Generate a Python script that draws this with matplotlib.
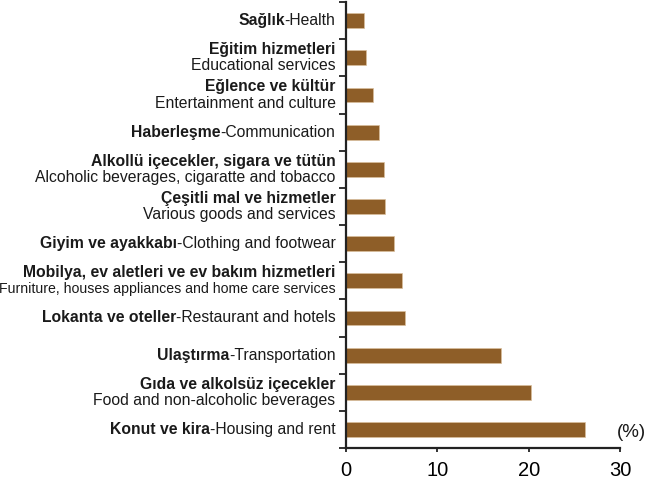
import matplotlib.pyplot as plt
import numpy as np

plt.rcParams['font.family'] = ['Liberation Sans', 'DejaVu Sans']

# categories, top to bottom
bold_tr = ['Sağlık', 'Eğitim hizmetleri', 'Eğlence ve kültür', 'Haberleşme',
           'Alkollü içecekler, sigara ve tütün', 'Çeşitli mal ve hizmetler',
           'Giyim ve ayakkabı', 'Mobilya, ev aletleri ve ev bakım hizmetleri',
           'Lokanta ve oteller', 'Ulaştırma', 'Gıda ve alkolsüz içecekler',
           'Konut ve kira']
english = ['Health', 'Educational services', 'Entertainment and culture',
           'Communication', 'Alcoholic beverages, cigaratte and tobacco',
           'Various goods and services', 'Clothing and footwear',
           'Furniture, houses appliances and home care services',
           'Restaurant and hotels', 'Transportation',
           'Food and non-alcoholic beverages', 'Housing and rent']
two_line = [False, True, True, False, True, True, False, True, False, False, True, False]
values = [2.0, 2.2, 2.9, 3.6, 4.2, 4.3, 5.2, 6.1, 6.4, 17.0, 20.2, 26.1]

bar_color = '#8e5e28'

fig = plt.figure(figsize=(6.48, 4.82), dpi=100)
ax = fig.add_axes([0.534, 0.0705, 0.423, 0.925])

y = np.arange(len(values))
ax.barh(y, values, height=0.4, color=bar_color, edgecolor='#d9bf9c', linewidth=0.5)

ax.set_xlim(0, 30)
ax.set_ylim(len(values) - 0.5, -0.5)
ax.set_xticks([0, 10, 20, 30])
ax.set_yticks(np.arange(len(values) + 1) - 0.5)
ax.set_yticklabels([])
ax.tick_params(axis='y', direction='out', length=5, width=1.3, color='#222222')
ax.tick_params(axis='x', direction='out', length=3, width=1.3, labelsize=14.5,
               pad=6, color='#222222')

for s in ['top', 'right']:
    ax.spines[s].set_visible(False)
for s in ['left', 'bottom']:
    ax.spines[s].set_linewidth(1.6)
    ax.spines[s].set_color('#222222')

tr = ax.get_yaxis_transform()
fs = 11.3
for i in range(len(values)):
    if two_line[i]:
        size = 10.2 if len(english[i]) > 45 else fs
        ax.annotate(bold_tr[i], xy=(0, i), xycoords=tr, xytext=(-7.5, 5.8),
                    textcoords='offset points', ha='right', va='center',
                    fontsize=fs, fontweight='bold', color='#1a1a1a')
        ax.annotate(english[i], xy=(0, i), xycoords=tr, xytext=(-7.5, -5.8),
                    textcoords='offset points', ha='right', va='center',
                    fontsize=size, color='#1a1a1a')
    else:
        t = ax.annotate('-' + english[i], xy=(0, i), xycoords=tr, xytext=(-7.5, 0),
                        textcoords='offset points', ha='right', va='center',
                        fontsize=fs, color='#1a1a1a')
        ax.annotate(bold_tr[i], xy=(0, 0), xycoords=t, ha='right', va='bottom',
                    fontsize=fs, fontweight='bold', color='#1a1a1a')

ax.text(29.6, len(values) - 1 + 0.08, '(%)', ha='left', va='center', fontsize=13.5,
        color='#1a1a1a', clip_on=False)

fig.savefig('out.png', dpi=100)
